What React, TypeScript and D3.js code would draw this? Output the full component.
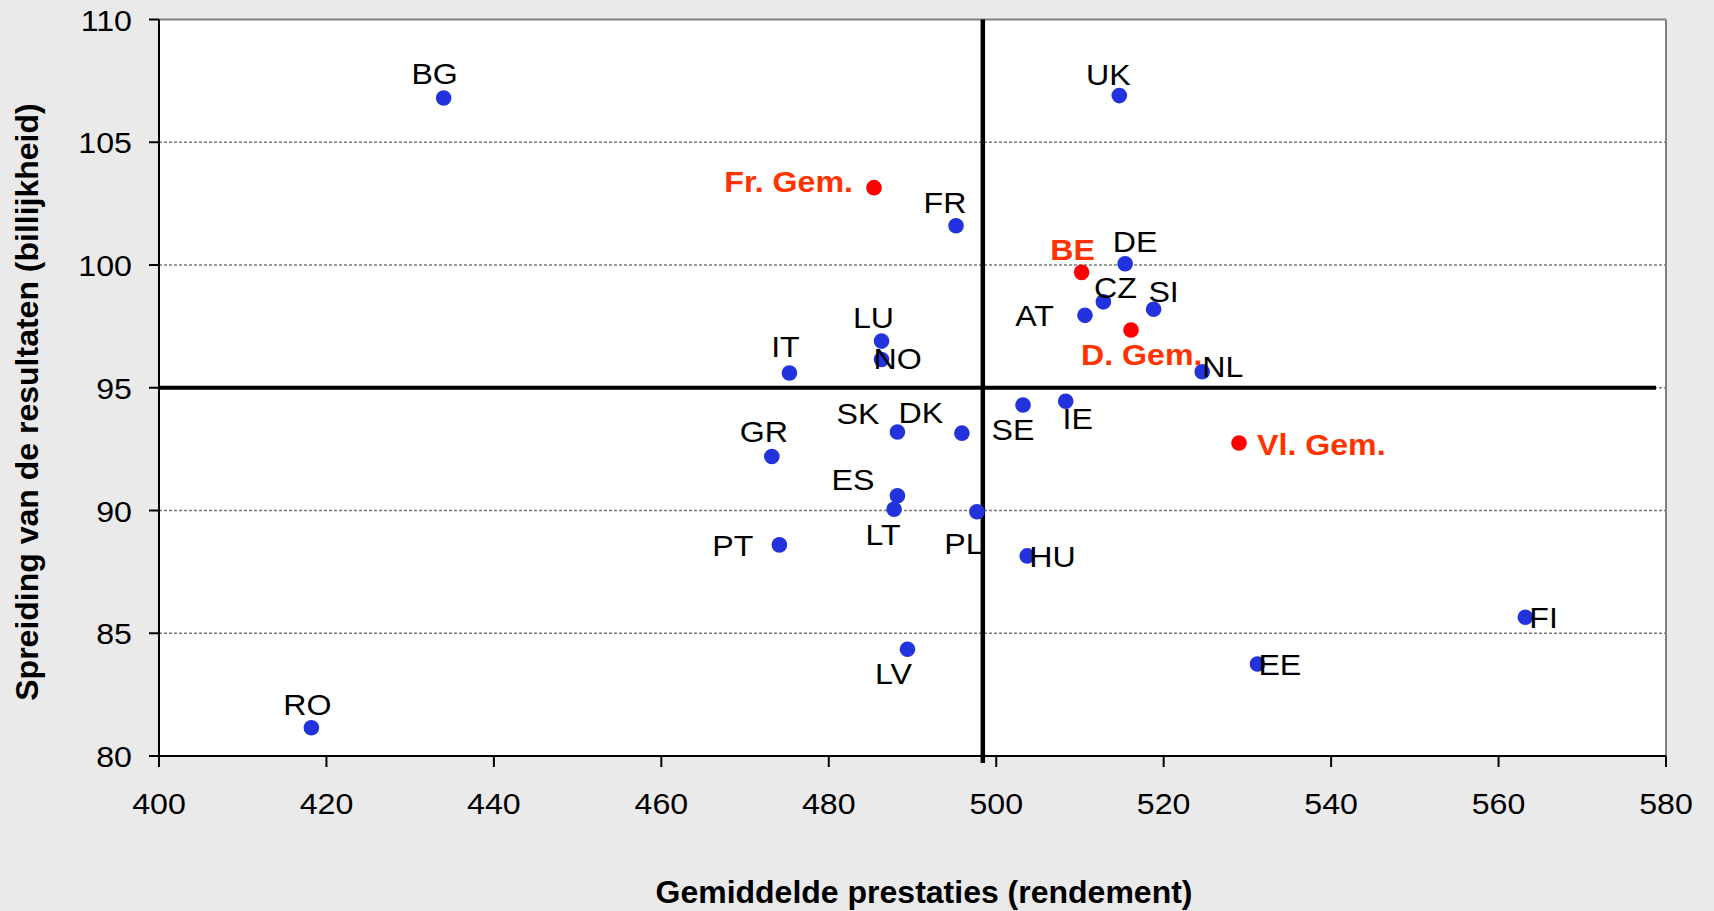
import React, { useEffect } from "react";
import { scaleLinear, range } from "d3";

// country / community codes, in reading order
const countries = [
  "BG", "UK", "Fr. Gem.", "FR", "BE", "DE", "CZ", "SI", "AT", "D. Gem.",
  "LU", "NO", "IT", "NL", "SE", "IE", "SK", "DK", "GR", "Vl. Gem.",
  "ES", "LT", "PL", "PT", "HU", "FI", "EE", "LV", "RO",
];

// Gemiddelde prestaties (rendement)
const performance = [
  434.0, 514.7, 485.4, 495.2, 510.2, 515.4, 512.8, 518.8, 510.6, 516.1,
  486.3, 486.3, 475.3, 524.6, 503.2, 508.3, 488.2, 495.9, 473.2, 529.0,
  488.2, 487.8, 497.7, 474.1, 503.7, 563.2, 531.2, 489.4, 418.2,
];

// Spreiding van de resultaten (billijkheid)
const spread = [
  106.8, 106.9, 103.15, 101.6, 99.7, 100.05, 98.5, 98.2, 97.95, 97.35,
  96.9, 96.15, 95.6, 95.65, 94.3, 94.45, 93.2, 93.15, 92.2, 92.75,
  90.6, 90.05, 89.95, 88.6, 88.15, 85.65, 83.75, 84.35, 81.15,
];

const communities = ["Fr. Gem.", "BE", "D. Gem.", "Vl. Gem."];

const averagePerformance = 498.4;
const averageSpread = 95;

const xTicks = [400, 420, 440, 460, 480, 500, 520, 540, 560, 580];
const yTicks = [80, 85, 90, 95, 100, 105, 110];

// where each label sits relative to its dot: [anchor, dx, dy]
const labelPlacement: Record<string, [string, number, number]> = {
  BG: ["middle", -9, -14],
  UK: ["middle", -11, -11],
  "Fr. Gem.": ["end", -21, 4],
  FR: ["middle", -11, -13],
  BE: ["middle", -9, -12],
  DE: ["middle", 10, -12],
  CZ: ["middle", 12, -4],
  SI: ["middle", 10, -7],
  AT: ["end", -31, 11],
  "D. Gem.": ["start", -50, 35],
  LU: ["middle", -8, -13],
  NO: ["start", -8, 9],
  IT: ["middle", -4, -16],
  NL: ["start", 0, 5],
  SE: ["middle", -10, 35],
  IE: ["middle", 12, 28],
  SK: ["end", -18, -8],
  DK: ["middle", -41, -10],
  GR: ["middle", -8, -14],
  "Vl. Gem.": ["start", 18, 12],
  ES: ["end", -23, -6],
  LT: ["middle", -11, 36],
  PL: ["middle", -13, 42],
  PT: ["end", -26, 11],
  HU: ["start", 2, 11],
  FI: ["start", 4, 11],
  EE: ["start", 1, 11],
  LV: ["middle", -14, 35],
  RO: ["middle", -4, -13],
};

const width = 1714;
const height = 911;
const margin = { left: 159, right: 48, top: 19.5, bottom: 155 };
const font = "'Liberation Sans', Arial, Helvetica, sans-serif";
const stretch = 1.09;

const App = () => {
  useEffect(() => {
    document.body.style.margin = "0";
    document.body.style.overflow = "hidden";
  }, []);

  const xScale = scaleLinear()
    .domain([400, 580])
    .range([margin.left, width - margin.right]);
  const yScale = scaleLinear()
    .domain([80, 110])
    .range([height - margin.bottom, margin.top]);

  const [x0, x1] = xScale.range();
  const [y0, y1] = yScale.range();

  const points = range(countries.length).map((i) => ({
    code: countries[i],
    x: xScale(performance[i]),
    y: yScale(spread[i]),
    red: communities.includes(countries[i]),
  }));

  return (
    <svg
      width={width}
      height={height}
      style={{ position: "absolute", left: 0, top: 0, fontFamily: font }}
    >
      <rect width={width} height={height} fill="#eaeaea" />
      <rect x={x0} y={y1} width={x1 - x0} height={y0 - y1} fill="#ffffff" />

      {/* dotted gridlines */}
      {yTicks.slice(1, -1).map((t) => (
        <line
          key={"g" + t}
          x1={x0}
          x2={x1}
          y1={yScale(t)}
          y2={yScale(t)}
          stroke="#7a7a7a"
          strokeWidth={1.5}
          strokeDasharray="3,2"
        />
      ))}

      {/* frame */}
      <line x1={x0} x2={x1} y1={y1} y2={y1} stroke="#808080" strokeWidth={2} />
      <line x1={x1} x2={x1} y1={y1} y2={y0} stroke="#808080" strokeWidth={2} />
      <line x1={x0} x2={x0} y1={y1} y2={y0} stroke="#000" strokeWidth={2} />
      <line x1={x0} x2={x1} y1={y0} y2={y0} stroke="#000" strokeWidth={2} />

      {/* ticks */}
      {yTicks.map((t) => (
        <g key={"y" + t}>
          <line x1={x0 - 10} x2={x0} y1={yScale(t)} y2={yScale(t)} stroke="#000" strokeWidth={2} />
          <text
            transform={`translate(${x0 - 27},${yScale(t) + 11}) scale(${stretch},1)`}
            textAnchor="end"
            fontSize={29.5}
            fill="#000"
          >
            {t}
          </text>
        </g>
      ))}
      {xTicks.map((t) => (
        <g key={"x" + t}>
          <line x1={xScale(t)} x2={xScale(t)} y1={y0} y2={y0 + 11} stroke="#000" strokeWidth={2} />
          <text
            transform={`translate(${xScale(t)},${y0 + 58}) scale(${stretch},1)`}
            textAnchor="middle"
            fontSize={29.5}
            fill="#000"
          >
            {t}
          </text>
        </g>
      ))}

      {/* average lines */}
      <line
        x1={x0}
        x2={x1 - 10}
        y1={yScale(averageSpread)}
        y2={yScale(averageSpread)}
        stroke="#000"
        strokeWidth={4}
      />
      <line
        x1={xScale(averagePerformance)}
        x2={xScale(averagePerformance)}
        y1={y1}
        y2={y0 + 7}
        stroke="#000"
        strokeWidth={4.5}
      />

      {points.map((p) => (
        <circle key={"c" + p.code} cx={p.x} cy={p.y} r={7.8} fill={p.red ? "#ff0000" : "#2233dd"} />
      ))}

      {points.map((p) => {
        const [anchor, dx, dy] = labelPlacement[p.code];
        return (
          <text
            key={"t" + p.code}
            transform={`translate(${p.x + dx},${p.y + dy}) scale(${stretch},1)`}
            textAnchor={anchor}
            fontSize={29.5}
            fontWeight={p.red ? "bold" : "normal"}
            fill={p.red ? "#ff3300" : "#000"}
          >
            {p.code}
          </text>
        );
      })}

      {/* axis titles */}
      <text x={924} y={903} textAnchor="middle" fontSize={32} fontWeight="bold" fill="#000">
        Gemiddelde prestaties (rendement)
      </text>
      <text
        transform={`translate(38,402) rotate(-90)`}
        textAnchor="middle"
        fontSize={32}
        fontWeight="bold"
        fill="#000"
      >
        Spreiding van de resultaten (billijkheid)
      </text>
    </svg>
  );
};

export default App;
